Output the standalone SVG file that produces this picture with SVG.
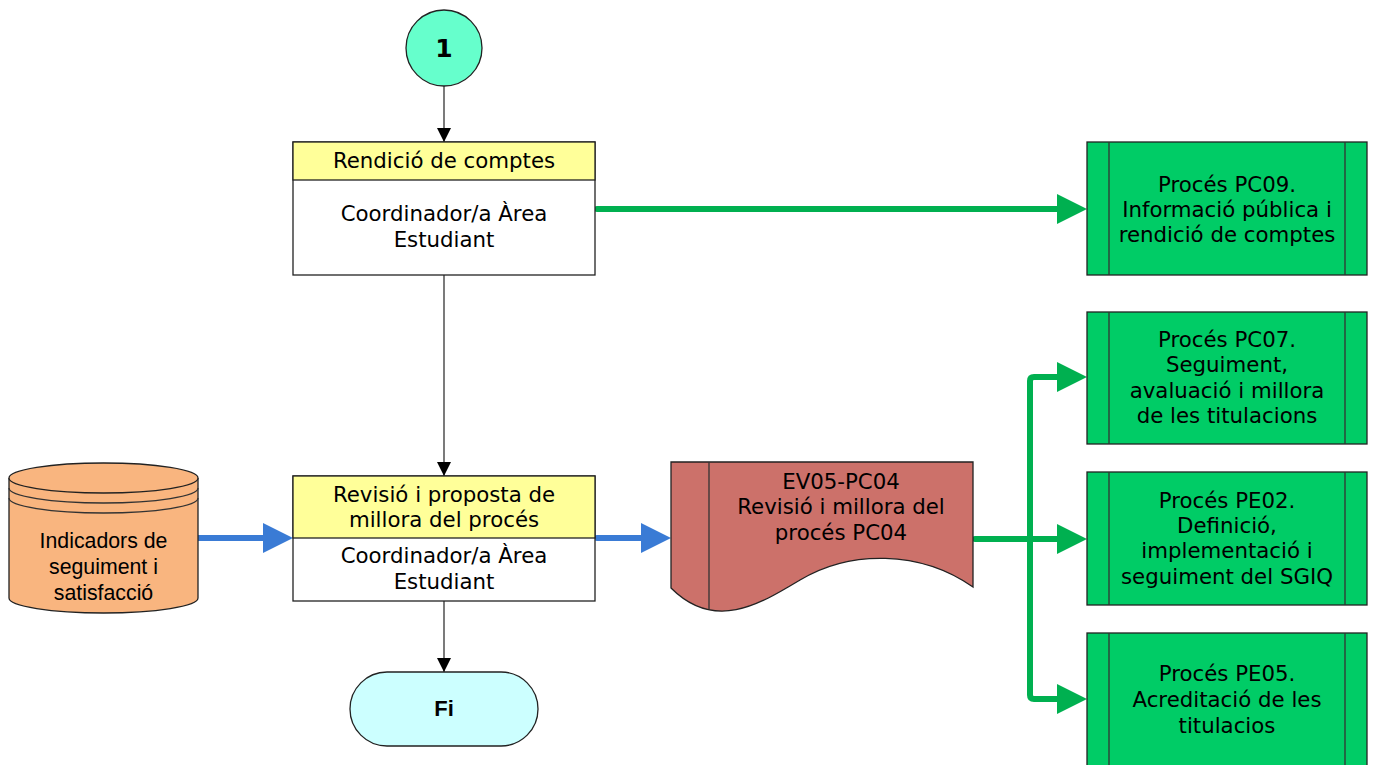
<svg xmlns="http://www.w3.org/2000/svg" width="1373" height="765" viewBox="0 0 1373 765">
<style>
.t{font-family:"DejaVu Sans",Verdana,sans-serif;font-size:21.3px;fill:#000;text-anchor:middle}
.a{font-family:"Liberation Sans",Arial,sans-serif;font-size:21.3px;fill:#000;text-anchor:middle}
.b{font-family:"Liberation Sans",Arial,sans-serif;font-size:22px;font-weight:bold;fill:#000;text-anchor:middle}
.bx{stroke:#222;stroke-width:1.3}
.thin{stroke:#333;stroke-width:1.3;fill:none}
.g{stroke:#00b050;stroke-width:6;fill:none;stroke-linecap:round;stroke-linejoin:round}
.bl{stroke:#3a7bd5;stroke-width:6;fill:none;stroke-linecap:round}
</style>
<defs>
<marker id="ah" markerUnits="userSpaceOnUse" markerWidth="16" markerHeight="16" refX="14" refY="7" orient="auto"><path d="M0,0 L14,7 L0,14 Z" fill="#000"/></marker>
</defs>
<g id="connectors">
<line class="thin" x1="444" y1="86" x2="444" y2="142" marker-end="url(#ah)"/>
<line class="thin" x1="444" y1="275" x2="444" y2="476" marker-end="url(#ah)"/>
<line class="thin" x1="444" y1="601" x2="444" y2="672" marker-end="url(#ah)"/>
<path class="g" d="M597,209 H1060"/><path d="M1057,194 L1087,209 L1057,224 Z" fill="#00b050"/>
<path class="bl" d="M198,538 H265"/><path d="M263,523 L293,538 L263,553 Z" fill="#3a7bd5"/>
<path class="bl" d="M597,538 H645"/><path d="M641,523 L671,538 L641,553 Z" fill="#3a7bd5"/>
<path class="g" d="M975,539 H1060"/><path d="M1057,524 L1087,539 L1057,554 Z" fill="#00b050"/>
<path class="g" d="M1060,377 H1034 Q1030,377 1030,381 V695 Q1030,699 1034,699 H1060"/>
<path d="M1057,362 L1087,377 L1057,392 Z" fill="#00b050"/>
<path d="M1057,684 L1087,699 L1057,714 Z" fill="#00b050"/>
</g>
<g id="start">
<circle cx="444" cy="48" r="38" fill="#66ffcc" stroke="#222" stroke-width="1.3"/>
<text x="444" y="57" style="font-family:'DejaVu Sans',Verdana,sans-serif;font-size:25px;font-weight:bold;text-anchor:middle">1</text>
</g>
<g id="rendicio">
<rect class="bx" x="293" y="142" width="302" height="133" fill="#fff"/>
<rect class="bx" x="293" y="142" width="302" height="38" fill="#ffff99"/>
<text class="t" x="444" y="168">Rendició de comptes</text>
<text class="t" x="444" y="221">Coordinador/a Àrea</text>
<text class="t" x="444" y="247">Estudiant</text>
</g>
<g id="revisio">
<rect class="bx" x="293" y="476" width="302" height="125" fill="#fff"/>
<rect class="bx" x="293" y="476" width="302" height="62" fill="#ffff99"/>
<text class="t" x="444" y="502">Revisió i proposta de</text>
<text class="t" x="444" y="527">millora del procés</text>
<text class="t" x="444" y="563">Coordinador/a Àrea</text>
<text class="t" x="444" y="589">Estudiant</text>
</g>
<g id="indicadors">
<path d="M9,478 V598 A94.5,15 0 0 0 198,598 V478" fill="#f9b57f" stroke="#222" stroke-width="1.3"/>
<ellipse cx="103.5" cy="478" rx="94.5" ry="15" fill="#f9b57f" stroke="#222" stroke-width="1.3"/>
<path class="thin" d="M9,488 A94.5,15 0 0 0 198,488 M9,498 A94.5,15 0 0 0 198,498"/>
<text class="a" x="103.5" y="548">Indicadors de</text>
<text class="a" x="103.5" y="574">seguiment i</text>
<text class="a" x="103.5" y="600">satisfacció</text>
</g>
<g id="fi">
<rect x="350" y="672" width="188" height="74" rx="37" ry="37" fill="#ccffff" stroke="#222" stroke-width="1.3"/>
<text class="b" x="444" y="716">Fi</text>
</g>
<g id="ev05">
<path d="M671,462 H973 V587 C920,550 850,550 800,580 C760,604 715,632 671,588 Z" fill="#cc716a" stroke="#222" stroke-width="1.3"/>
<line class="thin" x1="709" y1="462" x2="709" y2="609"/>
<text class="t" x="841" y="489">EV05-PC04</text>
<text class="t" x="841" y="514">Revisió i millora del</text>
<text class="t" x="841" y="540">procés PC04</text>
</g>
<g id="pc09">
<rect class="bx" x="1087" y="142" width="280" height="133" fill="#00cc66"/>
<path class="thin" d="M1109,142 V275 M1345,142 V275"/>
<text class="t" x="1227" y="192">Procés PC09.</text>
<text class="t" x="1227" y="217">Informació pública i</text>
<text class="t" x="1227" y="242">rendició de comptes</text>
</g>
<g id="pc07">
<rect class="bx" x="1087" y="312" width="280" height="132" fill="#00cc66"/>
<path class="thin" d="M1109,312 V444 M1345,312 V444"/>
<text class="t" x="1227" y="347">Procés PC07.</text>
<text class="t" x="1227" y="372">Seguiment,</text>
<text class="t" x="1227" y="398">avaluació i millora</text>
<text class="t" x="1227" y="423">de les titulacions</text>
</g>
<g id="pe02">
<rect class="bx" x="1087" y="472" width="280" height="133" fill="#00cc66"/>
<path class="thin" d="M1109,472 V605 M1345,472 V605"/>
<text class="t" x="1227" y="508">Procés PE02.</text>
<text class="t" x="1227" y="533">Definició,</text>
<text class="t" x="1227" y="558">implementació i</text>
<text class="t" x="1227" y="584">seguiment del SGIQ</text>
</g>
<g id="pe05">
<rect class="bx" x="1087" y="633" width="280" height="140" fill="#00cc66"/>
<path class="thin" d="M1109,633 V773 M1345,633 V773"/>
<text class="t" x="1227" y="681">Procés PE05.</text>
<text class="t" x="1227" y="707">Acreditació de les</text>
<text class="t" x="1227" y="733">titulacios</text>
</g>
</svg>
